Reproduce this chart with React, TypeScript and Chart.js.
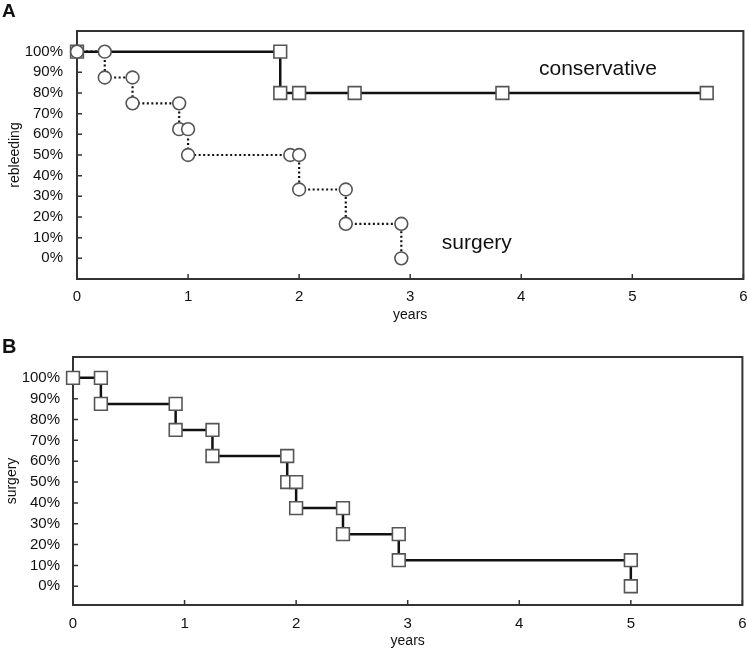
import React, { useEffect, useRef } from "react";
import { Chart, registerables } from "chart.js";

Chart.register(...registerables);

// ---- data ----
const X_TICKS = [0, 1, 2, 3, 4, 5, 6];
const Y_TICKS = [0, 10, 20, 30, 40, 50, 60, 70, 80, 90, 100];

// Panel A
const A_CONSERVATIVE_X = [0, 1.83, 1.83, 2.0, 2.5, 3.83, 5.67];
const A_CONSERVATIVE_Y = [100, 100, 80, 80, 80, 80, 80];
const A_SURGERY_X = [0, 0.25, 0.25, 0.5, 0.5, 0.92, 0.92, 1.0, 1.0, 1.92, 2.0, 2.0, 2.42, 2.42, 2.92, 2.92];
const A_SURGERY_Y = [100, 100, 87.5, 87.5, 75, 75, 62.5, 62.5, 50, 50, 50, 33.3, 33.3, 16.7, 16.7, 0];
const A_NOTE_TEXT = ["conservative", "surgery"];
const A_NOTE_X = [4.69, 3.6];
const A_NOTE_Y = [91.3, 7.1];

// Panel B
const B_SURGERY_X = [0, 0.25, 0.25, 0.92, 0.92, 1.25, 1.25, 1.92, 1.92, 2.0, 2.0, 2.42, 2.42, 2.92, 2.92, 5.0, 5.0];
const B_SURGERY_Y = [100, 100, 87.5, 87.5, 75, 75, 62.5, 62.5, 50, 50, 37.5, 37.5, 25, 25, 12.5, 12.5, 0];

const FONT = "'Liberation Sans', Arial, Helvetica, sans-serif";
const W = 748;
const H = 324;
// Chart.js reserves ~11px on the right for the last x label
const RIGHT_RESERVE = 11;

const toPoints = (xs: number[], ys: number[]) => xs.map((x, i) => ({ x, y: ys[i] }));

const framePlugin = {
  id: "frameTicks",
  beforeDatasetsDraw(chart: any) {
    const { ctx, chartArea: a, scales } = chart;
    const xs = scales.x;
    const ys = scales.y;
    ctx.save();
    ctx.strokeStyle = "#333";
    ctx.lineWidth = 1.5;
    ctx.beginPath();
    xs.ticks.forEach((t: any) => {
      const px = xs.getPixelForValue(t.value);
      ctx.moveTo(px, a.bottom);
      ctx.lineTo(px, a.bottom - 5);
    });
    ys.ticks.forEach((t: any) => {
      const py = ys.getPixelForValue(t.value);
      ctx.moveTo(a.left, py);
      ctx.lineTo(a.left + 5, py);
    });
    ctx.stroke();
    ctx.lineWidth = 2;
    ctx.strokeRect(a.left, a.top, a.right - a.left, a.bottom - a.top);
    ctx.restore();
  },
};

const notesPlugin = {
  id: "notes",
  afterDatasetsDraw(chart: any, _args: any, opts: any) {
    if (!opts || !opts.text) return;
    const { ctx, scales } = chart;
    ctx.save();
    ctx.fillStyle = "#111";
    ctx.font = `21px ${FONT}`;
    ctx.textAlign = "center";
    ctx.textBaseline = "middle";
    opts.text.forEach((t: string, i: number) => {
      ctx.fillText(t, scales.x.getPixelForValue(opts.x[i]), scales.y.getPixelForValue(opts.y[i]));
    });
    ctx.restore();
  },
};

type Geo = {
  left: number;
  top: number;
  right: number;
  bottom: number;
  yMin: number;
  yMax: number;
  yTitle: string;
  yTitlePad: number;
  yLabelPad: number;
  xLabelPad: number;
  xTitlePad: number;
};

function makeConfig(datasets: any[], geo: Geo, notes: any) {
  return {
    type: "scatter",
    data: { datasets },
    plugins: [framePlugin, notesPlugin],
    options: {
      animation: false,
      responsive: false,
      devicePixelRatio: 1,
      layout: { padding: { left: 0, top: geo.top, right: 0, bottom: 0 } },
      plugins: {
        legend: { display: false },
        tooltip: { enabled: false },
        notes,
      },
      scales: {
        x: {
          type: "linear",
          min: 0,
          max: 6,
          afterBuildTicks: (s: any) => {
            s.ticks = X_TICKS.map((v) => ({ value: v }));
          },
          afterFit: (s: any) => {
            s.height = H - geo.bottom;
            s.paddingLeft = 0;
            s.paddingRight = 0;
          },
          grid: { display: false, drawTicks: false },
          border: { display: false },
          ticks: {
            color: "#111",
            padding: geo.xLabelPad,
            maxRotation: 0,
            font: { family: FONT, size: 15 },
            callback: (v: any) => String(v),
          },
          title: {
            display: true,
            text: "years",
            color: "#111",
            padding: { top: 0, bottom: geo.xTitlePad },
            font: { family: FONT, size: 14 },
          },
        },
        y: {
          type: "linear",
          min: geo.yMin,
          max: geo.yMax,
          afterBuildTicks: (s: any) => {
            s.ticks = Y_TICKS.map((v) => ({ value: v }));
          },
          afterFit: (s: any) => {
            s.width = geo.left;
          },
          grid: { display: false, drawTicks: false },
          border: { display: false },
          ticks: {
            color: "#111",
            padding: geo.yLabelPad,
            font: { family: FONT, size: 15 },
            callback: (v: any) => `${v}%`,
          },
          title: {
            display: true,
            text: geo.yTitle,
            color: "#111",
            padding: { top: geo.yTitlePad, bottom: 0 },
            font: { family: FONT, size: 14 },
          },
        },
      },
    },
  } as any;
}

function ChartCanvas({ config, top, width }: { config: any; top: number; width: number }) {
  const ref = useRef<HTMLCanvasElement | null>(null);
  useEffect(() => {
    if (!ref.current) return;
    const chart = new Chart(ref.current, config);
    return () => chart.destroy();
  }, [config]);
  return (
    <canvas
      ref={ref}
      width={width}
      height={H}
      style={{ position: "absolute", left: 0, top, width, height: H }}
    />
  );
}

const lineBase = {
  showLine: true,
  clip: false,
  borderColor: "#111",
  pointBackgroundColor: "#fff",
  pointBorderColor: "#555",
  pointBorderWidth: 1.6,
};

const GEO_A: Geo = {
  left: 77,
  top: 31,
  right: 743,
  bottom: 279,
  yMin: -10,
  yMax: 110,
  yTitle: "rebleeding",
  yTitlePad: 7,
  yLabelPad: 14,
  xLabelPad: 9,
  xTitlePad: 0,
};

const GEO_B: Geo = {
  left: 73,
  top: 33,
  right: 742,
  bottom: 281,
  yMin: -9,
  yMax: 110,
  yTitle: "surgery",
  yTitlePad: 3.5,
  yLabelPad: 13,
  xLabelPad: 10,
  xTitlePad: -2,
};

const configA = makeConfig(
  [
    {
      ...lineBase,
      label: "surgery",
      data: toPoints(A_SURGERY_X, A_SURGERY_Y),
      borderWidth: 2.2,
      borderDash: [2, 2.5],
      pointStyle: "circle",
      pointRadius: 6.4,
    },
    {
      ...lineBase,
      label: "conservative",
      data: toPoints(A_CONSERVATIVE_X, A_CONSERVATIVE_Y),
      borderWidth: 2.5,
      pointStyle: "rect",
      pointRadius: 9,
    },
  ],
  GEO_A,
  { text: A_NOTE_TEXT, x: A_NOTE_X, y: A_NOTE_Y }
);

const configB = makeConfig(
  [
    {
      ...lineBase,
      label: "surgery",
      data: toPoints(B_SURGERY_X, B_SURGERY_Y),
      borderWidth: 2.5,
      pointStyle: "rect",
      pointRadius: 9,
    },
  ],
  GEO_B,
  null
);

export default function App() {
  return (
    <div
      style={{
        position: "absolute",
        left: 0,
        top: 0,
        width: W,
        height: 648,
        background: "#fff",
        overflow: "hidden",
      }}
    >
      <ChartCanvas config={configA} top={0} width={GEO_A.right + RIGHT_RESERVE} />
      <ChartCanvas config={configB} top={324} width={GEO_B.right + RIGHT_RESERVE} />
      <div
        style={{
          position: "absolute",
          left: 2,
          top: 1,
          font: `bold 19px ${FONT}`,
          lineHeight: "20px",
          color: "#111",
        }}
      >
        A
      </div>
      <div
        style={{
          position: "absolute",
          left: 2,
          top: 336,
          font: `bold 20px ${FONT}`,
          lineHeight: "20px",
          color: "#111",
        }}
      >
        B
      </div>
    </div>
  );
}
